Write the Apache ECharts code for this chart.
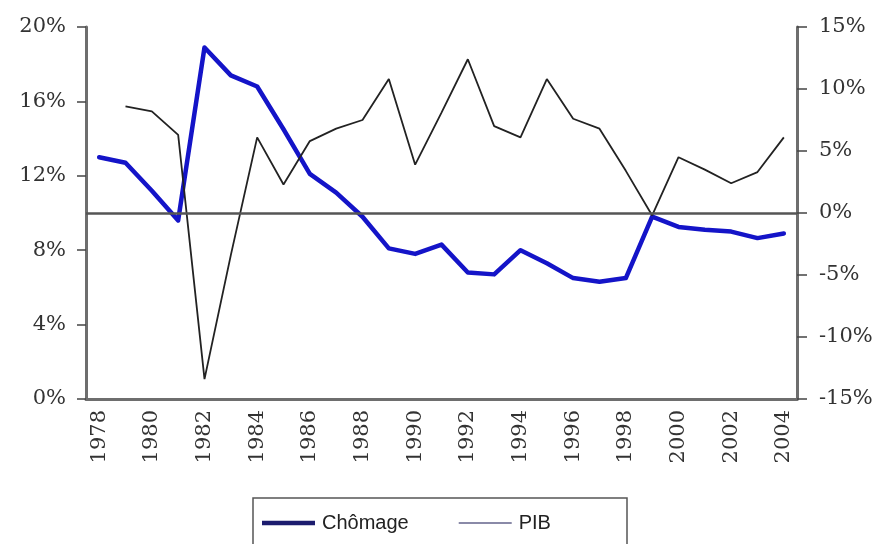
<!DOCTYPE html>
<html>
<head>
<meta charset="utf-8">
<script src="https://cdn.jsdelivr.net/npm/echarts@6/dist/echarts.min.js"></script>
<style>
  html, body { margin: 0; padding: 0; background: #fff; }
  #chart { width: 880px; height: 544px; }
</style>
</head>
<body>
<div id="chart"></div>
<script>
var years = ['1978','1979','1980','1981','1982','1983','1984','1985','1986','1987','1988','1989','1990',
             '1991','1992','1993','1994','1995','1996','1997','1998','1999','2000','2001','2002','2003','2004'];
// taux de chômage (%) - axe de gauche
var chomage = [13.0, 12.7, 11.2, 9.6, 18.9, 17.4, 16.8, 14.5, 12.1, 11.1, 9.8, 8.1, 7.8,
               8.3, 6.8, 6.7, 8.0, 7.3, 6.5, 6.3, 6.5, 9.8, 9.25, 9.1, 9.0, 8.65, 8.9];
// croissance du PIB (%) - axe de droite
var pib = ['-', 8.6, 8.2, 6.3, -13.4, -3.4, 6.1, 2.3, 5.8, 6.8, 7.5, 10.8, 3.9,
           8.1, 12.4, 7.0, 6.1, 10.8, 7.6, 6.8, 3.4, -0.2, 4.5, 3.5, 2.4, 3.3, 6.1];

var serif = 'DejaVu Serif';
var axisGrey = '#6e6e6e';

var chart = echarts.init(document.getElementById('chart'));
var option = {
    animation: false,
    backgroundColor: '#fff',
    grid: { left: 86, right: 83, top: 27, bottom: 145 },
    graphic: [{
        type: 'rect',
        shape: { x: 253, y: 498, width: 374, height: 60 },
        style: { fill: 'none', stroke: '#555', lineWidth: 1.5 }
    }],
    legend: {
        left: 257,
        top: 508,
        itemWidth: 53,
        itemHeight: 14,
        itemGap: 50,
        textStyle: { fontFamily: 'Liberation Sans', fontSize: 20, color: '#222', padding: [0, 0, 0, 2] },
        data: [
            { name: 'Chômage', icon: 'path://M0,0h53v4.5h-53z', itemStyle: { color: '#1c1c6e' } },
            { name: 'PIB', icon: 'path://M0,0h53v2h-53z', itemStyle: { color: '#8a8aa8' } }
        ]
    },
    xAxis: {
        type: 'category',
        data: years,
        boundaryGap: true,
        axisLine: { lineStyle: { color: axisGrey, width: 3 } },
        axisTick: { length: 7, lineStyle: { color: '#444', width: 1 } },
        axisLabel: {
            rotate: 90,
            interval: 1,
            margin: 11,
            fontFamily: serif,
            fontSize: 21,
            color: '#333'
        }
    },
    yAxis: [{
        type: 'value',
        min: 0, max: 20, interval: 4,
        position: 'left',
        axisLine: { show: true, lineStyle: { color: axisGrey, width: 3 } },
        axisTick: { show: true, length: 9, lineStyle: { color: '#444', width: 1.5 } },
        splitLine: { show: false },
        axisLabel: { formatter: '{value}%', margin: 20, fontFamily: serif, fontSize: 21, color: '#333' }
    }, {
        type: 'value',
        min: -15, max: 15, interval: 5,
        position: 'right',
        axisLine: { show: true, lineStyle: { color: axisGrey, width: 3 } },
        axisTick: { show: true, length: 10, lineStyle: { color: '#444', width: 1.5 } },
        splitLine: { show: false },
        axisLabel: { formatter: '{value}%', margin: 22, fontFamily: serif, fontSize: 21, color: '#333' }
    }],
    series: [{
        name: 'Chômage',
        type: 'line',
        yAxisIndex: 0,
        data: chomage,
        symbol: 'none',
        z: 3,
        lineStyle: { color: '#1414c8', width: 4.5, join: 'round', cap: 'round' },
        itemStyle: { color: '#1c1c6e' }
    }, {
        name: 'PIB',
        type: 'line',
        yAxisIndex: 1,
        data: pib,
        symbol: 'none',
        z: 4,
        lineStyle: { color: '#222', width: 1.8 },
        itemStyle: { color: '#8a8aa8' },
        markLine: {
            silent: true,
            symbol: 'none',
            label: { show: false },
            lineStyle: { color: '#555', width: 2.5, type: 'solid' },
            data: [{ yAxis: 0 }]
        }
    }]
};
chart.setOption(option);
</script>
</body>
</html>
